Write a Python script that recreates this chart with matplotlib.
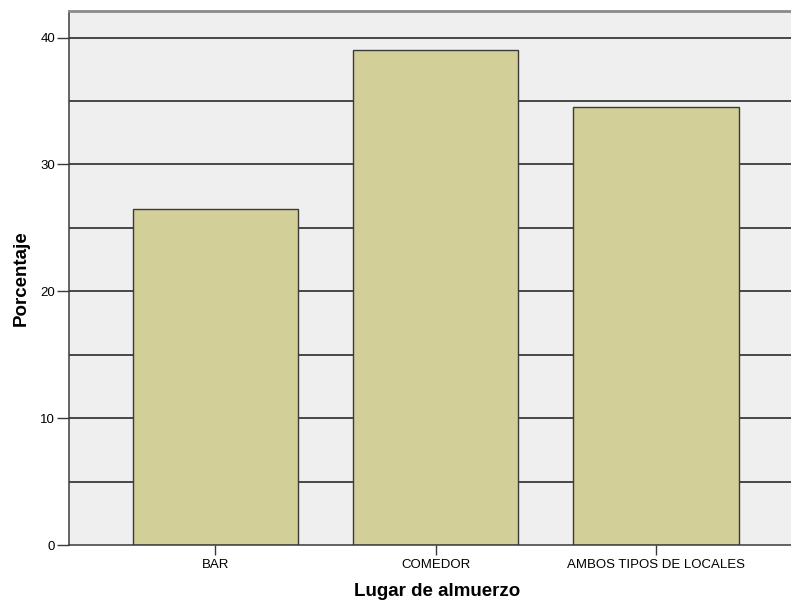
import matplotlib.pyplot as plt
import numpy as np

# Data
categorias = ["BAR", "COMEDOR", "AMBOS TIPOS DE LOCALES"]
porcentaje = [26.5, 39.0, 34.5]

plt.rcParams['font.family'] = ['Liberation Sans', 'DejaVu Sans']

fig = plt.figure(figsize=(7.91, 6.06), dpi=100)
ax = fig.add_axes([69 / 791, 61 / 606, 722 / 791, 534 / 606])
ax.set_facecolor('#EFEFEF')

x = np.arange(len(categorias))

# grid lines every 5 units, drawn behind bars
for g in np.arange(5, 45, 5):
    ax.axhline(g, color='#1a1a1a', linewidth=1.1, zorder=1)

ax.bar(x, porcentaje, width=0.75, color='#D3CF98', edgecolor='#3a3a3a',
       linewidth=1.0, zorder=2)

ax.set_xlim(-0.665, 2.613)
ax.set_ylim(0, 42.1)
ax.set_yticks([0, 10, 20, 30, 40])
ax.set_xticks(x)
ax.set_xticklabels(categorias, fontsize=9.5)
ax.tick_params(axis='y', labelsize=9.5, length=9, width=1, color='#3a3a3a', pad=1)
ax.tick_params(axis='x', length=7, width=1, color='#3a3a3a', pad=3)

for side in ['left', 'bottom']:
    ax.spines[side].set_color('#3a3a3a')
    ax.spines[side].set_linewidth(1.1)
ax.spines['top'].set_color('#8a8a8a')
ax.spines['top'].set_linewidth(2)
ax.spines['right'].set_visible(False)

ax.set_ylabel('Porcentaje', fontsize=13.5, fontweight='bold')
ax.set_xlabel('Lugar de almuerzo', fontsize=13.5, fontweight='bold')
ax.yaxis.set_label_coords(-39 / 722, 0.5)
ax.xaxis.set_label_coords(0.51, -38 / 534)

fig.savefig('out.png', dpi=100)
